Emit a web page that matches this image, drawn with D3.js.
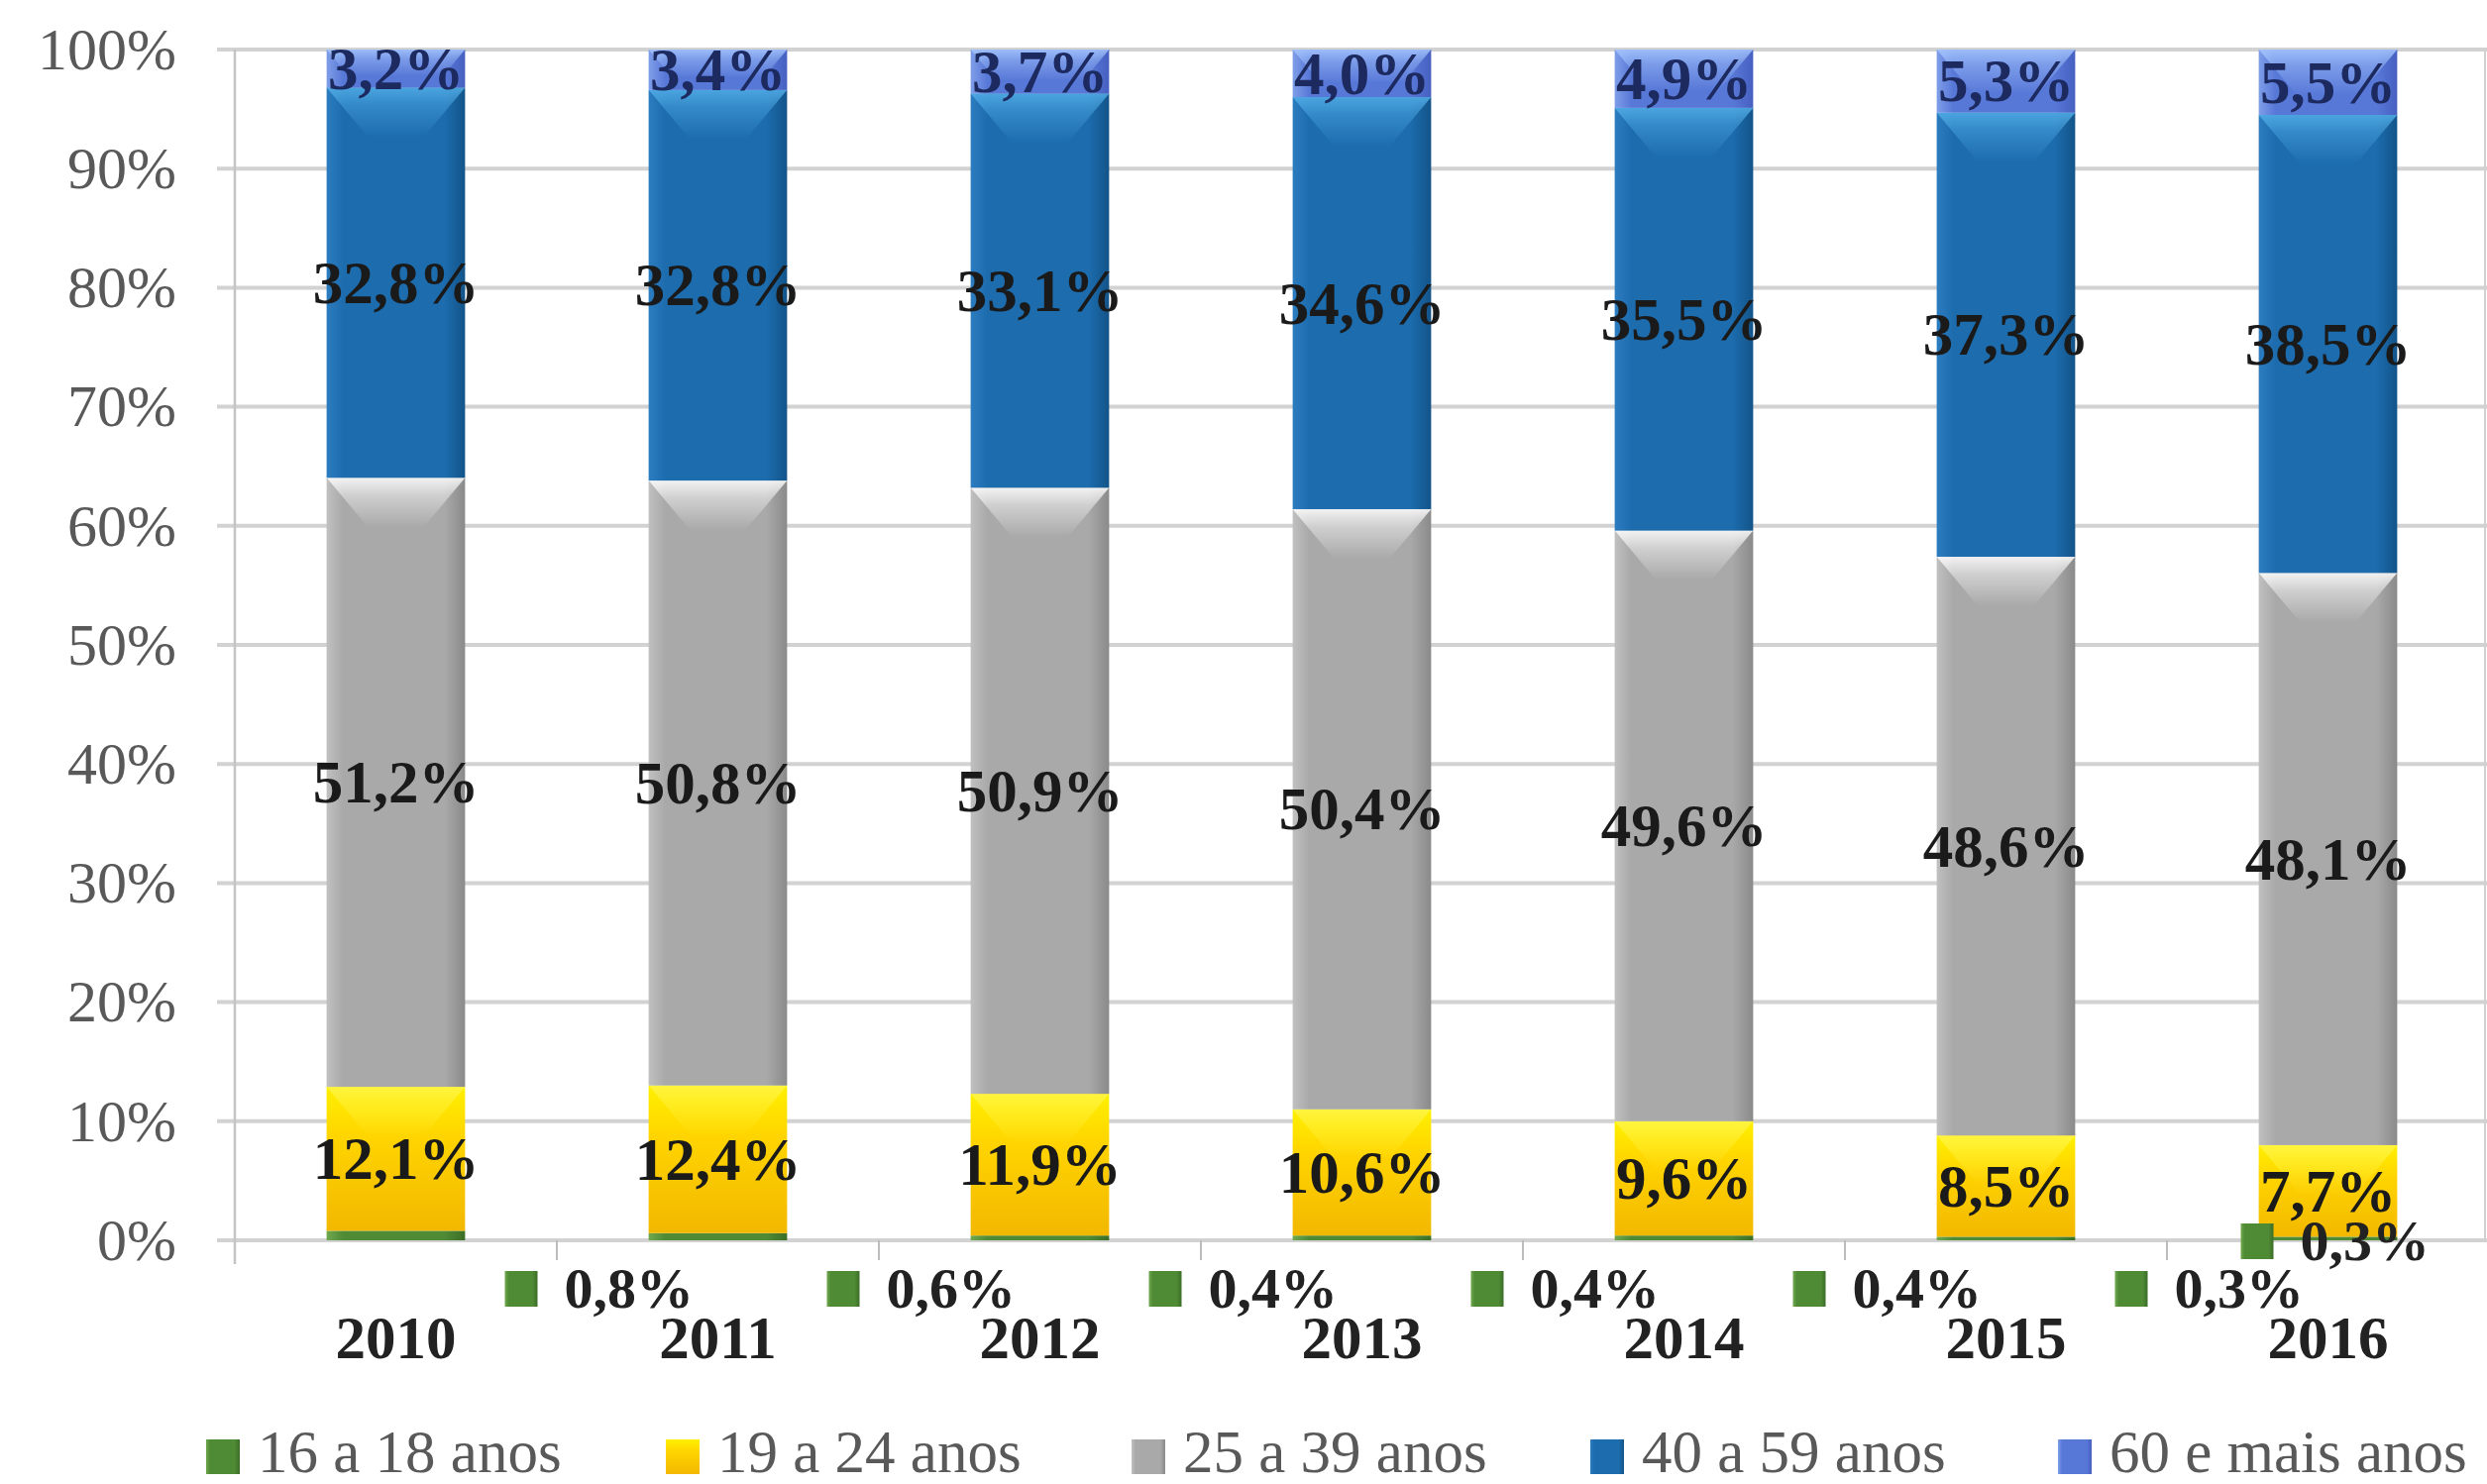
<!DOCTYPE html>
<html>
<head>
<meta charset="utf-8">
<script src="https://cdn.jsdelivr.net/npm/d3@7"></script>
<style>
  body { margin: 0; background: #fff; }
  svg { display: block; }
</style>
</head>
<body>
<div id="chart"></div>
<script>
// dados
const years = ['2010', '2011', '2012', '2013', '2014', '2015', '2016'];
const seriesNames = ['16 a 18 anos', '19 a 24 anos', '25 a 39 anos', '40 a 59 anos', '60 e mais anos'];
const v16a18 = [0.8, 0.6, 0.4, 0.4, 0.4, 0.3, 0.3];
const v19a24 = [12.1, 12.4, 11.9, 10.6, 9.6, 8.5, 7.7];
const v25a39 = [51.2, 50.8, 50.9, 50.4, 49.6, 48.6, 48.1];
const v40a59 = [32.8, 32.8, 33.1, 34.6, 35.5, 37.3, 38.5];
const v60mais = [3.2, 3.4, 3.7, 4.0, 4.9, 5.3, 5.5];
const yTicks = [0, 0.1, 0.2, 0.3, 0.4, 0.5, 0.6, 0.7, 0.8, 0.9, 1];

const W = 2510, H = 1498;
const plotLeft = 237, plotRight = 2512, plotTop = 50, plotBottom = 1252;

const rows = years.map((yr, i) => ({
    year: yr,
    [seriesNames[0]]: v16a18[i],
    [seriesNames[1]]: v19a24[i],
    [seriesNames[2]]: v25a39[i],
    [seriesNames[3]]: v40a59[i],
    [seriesNames[4]]: v60mais[i]
}));

const stack = d3.stack().keys(seriesNames).offset(d3.stackOffsetExpand);
const layers = stack(rows);

const x = d3.scaleBand().domain(years).range([plotLeft, plotRight]).paddingInner(0.57).paddingOuter(0.285);
const y = d3.scaleLinear().domain([0, 1]).range([plotBottom, plotTop]);

// cores (base, claro, escuro, chanfro)
const colors = [
    { base: '#4f8a35', light: '#6fa84e', dark: '#3b6e27', bevel: '#9fd67a' },
    { base: '#f7c300', light: '#ffec1a', dark: '#e9a800', bevel: '#fff44a' },
    { base: '#a9a9a9', light: '#c0c0c0', dark: '#8a8a8a', bevel: '#ffffff' },
    { base: '#1c6cae', light: '#2c7cc0', dark: '#135489', bevel: '#52aee8' },
    { base: '#5878d8', light: '#7f9ee8', dark: '#4660c0', bevel: '#a8c8ff' }
];

const svg = d3.select('#chart').append('svg').attr('width', W).attr('height', H);
svg.append('rect').attr('width', W).attr('height', H).attr('fill', '#fff');

const defs = svg.append('defs');
colors.forEach((c, i) => {
    const g = defs.append('linearGradient').attr('id', 'h' + i).attr('x1', 0).attr('x2', 1).attr('y1', 0).attr('y2', 0);
    g.append('stop').attr('offset', '0%').attr('stop-color', c.light);
    g.append('stop').attr('offset', '12%').attr('stop-color', c.base);
    g.append('stop').attr('offset', '85%').attr('stop-color', c.base);
    g.append('stop').attr('offset', '100%').attr('stop-color', c.dark);
    const b = defs.append('linearGradient').attr('id', 'bev' + i).attr('x1', 0).attr('x2', 0).attr('y1', 0).attr('y2', 1);
    b.append('stop').attr('offset', '0%').attr('stop-color', c.bevel).attr('stop-opacity', 0.85);
    b.append('stop').attr('offset', '35%').attr('stop-color', c.bevel).attr('stop-opacity', 0.45);
    b.append('stop').attr('offset', '100%').attr('stop-color', c.bevel).attr('stop-opacity', 0);
});
// amarelo com gradiente vertical
const gy = defs.append('linearGradient').attr('id', 'vy').attr('x1', 0).attr('x2', 0).attr('y1', 0).attr('y2', 1);
gy.append('stop').attr('offset', '0%').attr('stop-color', '#fff000');
gy.append('stop').attr('offset', '35%').attr('stop-color', '#ffd400');
gy.append('stop').attr('offset', '100%').attr('stop-color', '#f2b800');

// grade
svg.append('g').selectAll('line').data(yTicks).join('line')
    .attr('x1', plotLeft - 18).attr('x2', W)
    .attr('y1', d => y(d)).attr('y2', d => y(d))
    .attr('stroke', '#d2d2d2').attr('stroke-width', 4);

svg.append('line').attr('x1', plotLeft).attr('x2', plotLeft).attr('y1', plotTop).attr('y2', plotBottom + 24)
    .attr('stroke', '#c4c4c4').attr('stroke-width', 2.5);
svg.append('line').attr('x1', W - 2).attr('x2', W - 2).attr('y1', plotTop).attr('y2', plotBottom)
    .attr('stroke', '#d0d0d0').attr('stroke-width', 2);

// marcas entre categorias
svg.append('g').selectAll('line').data(years.slice(1)).join('line')
    .attr('x1', d => x(d) - x.step() * x.paddingInner() / 2)
    .attr('x2', d => x(d) - x.step() * x.paddingInner() / 2)
    .attr('y1', plotBottom).attr('y2', plotBottom + 20)
    .attr('stroke', '#bdbdbd').attr('stroke-width', 2);

// eixo y
const yAxis = d3.axisLeft(y).tickValues(yTicks).tickFormat(d => Math.round(d * 100) + '%').tickSize(0).tickPadding(0);
const gY = svg.append('g').attr('transform', `translate(${plotLeft - 59},0)`).call(yAxis);
gY.select('.domain').remove();
gY.selectAll('text').attr('font-family', 'Liberation Serif, serif').attr('font-size', 60).attr('fill', '#595959');

// eixo x
const xAxis = d3.axisBottom(x).tickSize(0).tickPadding(0);
const gX = svg.append('g').attr('transform', `translate(0,${plotBottom + 76})`).call(xAxis);
gX.select('.domain').remove();
gX.selectAll('text').attr('font-family', 'Liberation Serif, serif').attr('font-size', 61)
    .attr('font-weight', 'bold').attr('fill', '#222');

// barras
const bw = x.bandwidth();
layers.forEach((layer, si) => {
    const g = svg.append('g');
    const segs = g.selectAll('g').data(layer).join('g');
    segs.append('rect')
        .attr('x', d => x(d.data.year)).attr('width', bw)
        .attr('y', d => y(d[1])).attr('height', d => y(d[0]) - y(d[1]))
        .attr('fill', si === 1 ? 'url(#vy)' : `url(#h${si})`);
    if (si > 0) {
        segs.append('path')
            .attr('d', d => {
                const x0 = x(d.data.year), x1 = x0 + bw, t = y(d[1]);
                const h = Math.min(50, (y(d[0]) - y(d[1])) * 0.7);
                const inset = bw * 0.3 * (h / 50);
                return `M${x0},${t}L${x1},${t}L${x1 - inset},${t + h}L${x0 + inset},${t + h}Z`;
            })
            .attr('fill', `url(#bev${si})`);
    }
});

// rótulos
const labelFont = 'Liberation Serif, serif';
const fmt = v => v.toFixed(1).replace('.', ',') + '%';
layers.forEach((layer, si) => {
    if (si === 0) return;
    svg.append('g').selectAll('text').data(layer).join('text')
        .attr('x', d => x(d.data.year) + bw / 2)
        .attr('y', d => (y(d[0]) + y(d[1])) / 2)
        .attr('text-anchor', 'middle').attr('dominant-baseline', 'central')
        .attr('font-family', labelFont).attr('font-size', 61).attr('font-weight', 'bold')
        .attr('fill', si === 4 ? '#1c2a60' : '#1a1a1a')
        .text(d => fmt(d.data[seriesNames[si]]));
});

// rótulos do grupo 16 a 18 (deslocados para fora da barra)
const greenLbl = svg.append('g').selectAll('g').data(layers[0]).join('g')
    .attr('transform', (d, i) => i < years.length - 1
        ? `translate(${x(d.data.year) + bw / 2 + 110},1320)`
        : `translate(${x(d.data.year) + bw / 2 - 88},1272)`);
greenLbl.append('rect').attr('x', 0).attr('y', -37).attr('width', 33).attr('height', 36).attr('fill', 'url(#h0)');
greenLbl.append('text').attr('x', 60).attr('y', 0)
    .attr('font-family', labelFont).attr('font-size', 58).attr('font-weight', 'bold').attr('fill', '#222')
    .text(d => fmt(d.data[seriesNames[0]]));

// legenda
const legendX = [208, 672, 1142, 1605, 2077];
const leg = svg.append('g').selectAll('g').data(seriesNames).join('g')
    .attr('transform', (d, i) => `translate(${legendX[i]},1486)`);
leg.append('rect').attr('x', 0).attr('y', -33).attr('width', 34).attr('height', 35)
    .attr('fill', (d, i) => i === 1 ? 'url(#vy)' : `url(#h${i})`);
leg.append('text').attr('x', 52).attr('y', 0)
    .attr('font-family', labelFont).attr('font-size', 61).attr('fill', '#595959')
    .text(d => d);
</script>
</body>
</html>
